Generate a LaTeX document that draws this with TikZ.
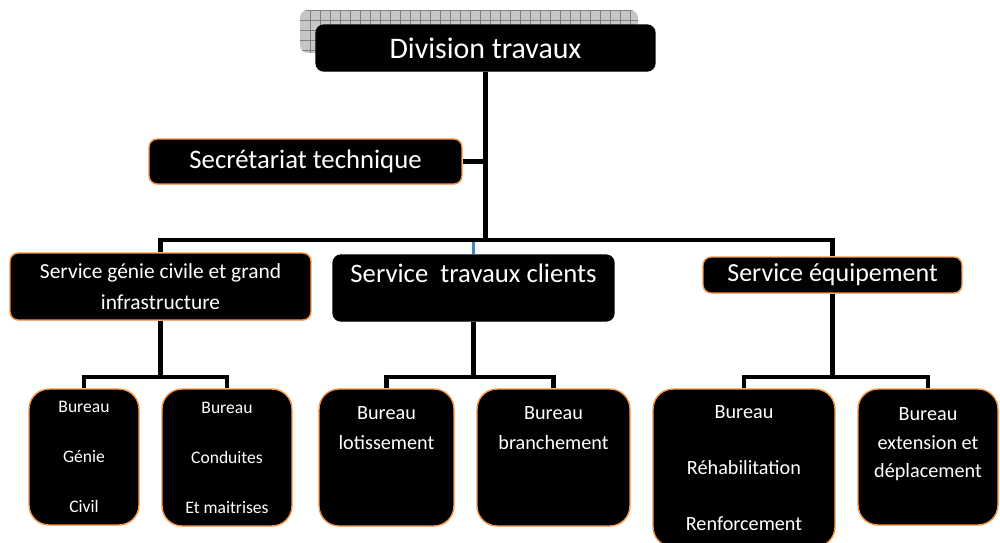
\documentclass[tikz,border=0pt]{standalone}
\usepackage{fontspec}
\setmainfont{Carlito}
\definecolor{accent}{RGB}{247,150,70}
\definecolor{linkblue}{RGB}{79,129,189}

\begin{document}
\begin{tikzpicture}[x=0.02cm, y=-0.02cm,
  box/.style={draw=black, fill=black, text=white, rounded corners=1.6mm, align=center, inner sep=0pt, line width=0.8pt},
  obox/.style={box, draw=accent},
  bureau/.style={obox, rounded corners=4mm},
  link/.style={line width=2.8pt, draw=black}]

\useasboundingbox (0,0) rectangle (1000,542);
\clip (0,0) rectangle (1000,542);

% grid shadow behind the head
\begin{scope}
  \clip[rounded corners=1.6mm] (300,10) rectangle (638,53);
  \fill[gray!45] (300,10) rectangle (638,53);
  \draw[gray, line width=0.3pt, step=0.2cm] (300,10) grid (638,53);
\end{scope}

\node[box, minimum width=6.78cm, minimum height=0.92cm, font=\fontsize{17}{20}\selectfont] (div) at (485.5,48) {Division travaux};
\node[obox, minimum width=6.26cm, minimum height=0.9cm, font=\fontsize{15.2}{18}\selectfont] (sec) at (305.5,161.5) {Secrétariat technique};

\node[obox, minimum width=6.02cm, minimum height=1.34cm, font=\fontsize{12.2}{18}\selectfont] (genie) at (160.5,286.5) {Service génie civile et grand\\infrastructure};
\node[box, minimum width=5.62cm, minimum height=1.32cm, font=\fontsize{15.2}{17}\selectfont] (trav) at (473.5,288) {Service\ \ travaux clients\\\mbox{}};
\node[obox, minimum width=5.18cm, minimum height=0.72cm, font=\fontsize{14.8}{17}\selectfont] (equip) at (832.5,275) {Service équipement};

\node[bureau, minimum width=2.2cm, minimum height=2.72cm, font=\fontsize{10}{28.5}\selectfont] (bgc) at (84,457) {Bureau\\Génie\\Civil};
\node[bureau, minimum width=2.6cm, minimum height=2.74cm, font=\fontsize{10}{28.5}\selectfont] (bcm) at (227,457.5) {Bureau\\Conduites\\Et maitrises};
\node[bureau, minimum width=2.7cm, minimum height=2.74cm, font=\fontsize{11.5}{17}\selectfont] (blot) at (386.5,457.5) {Bureau\\lotissement\\\mbox{}\\\mbox{}};
\node[bureau, minimum width=3.06cm, minimum height=2.74cm, font=\fontsize{11.5}{17}\selectfont] (bbr) at (553.5,457.5) {Bureau\\branchement\\\mbox{}\\\mbox{}};
\node[bureau, minimum width=3.64cm, minimum height=3.16cm, font=\fontsize{11.5}{32}\selectfont] (brh) at (744,468) {Bureau\\Réhabilitation\\Renforcement};
\node[bureau, minimum width=2.8cm, minimum height=2.72cm, font=\fontsize{11.5}{16.5}\selectfont] (bext) at (928,457) {Bureau\\extension et\\déplacement\\\mbox{}};

% links
\coordinate (bus) at (div.south |- 0,240);
\draw[line width=1.6pt, draw=linkblue] (trav.north) -- (trav.north |- bus);
\draw[link] (div.south) -- (bus);
\draw[link] (sec.east) -- (sec.east -| bus);
\draw[link] (genie.north) |- (bus) -| (equip.north);

\coordinate (j1) at (genie.south |- 0,377);
\coordinate (j2) at (trav.south |- 0,377);
\coordinate (j3) at (equip.south |- 0,377);
\draw[link] (genie.south) -- (j1);
\draw[link] (trav.south) -- (j2);
\draw[link] (equip.south) -- (j3);
\draw[link] (bgc.north) |- (j1) -| (bcm.north);
\draw[link] (blot.north) |- (j2) -| (bbr.north);
\draw[link] (brh.north) |- (j3) -| (bext.north);
\end{tikzpicture}
\end{document}
